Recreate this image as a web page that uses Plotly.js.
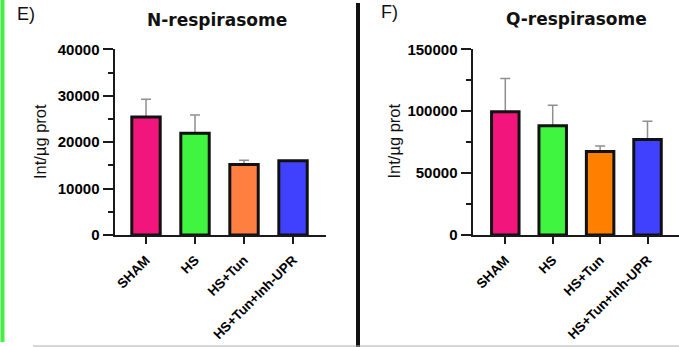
<!DOCTYPE html>
<html>
<head>
<meta charset="utf-8">
<script src="https://cdn.plot.ly/plotly-3.0.1.min.js"></script>
<style>html,body{margin:0;padding:0;background:#fff;}#chart{width:679px;height:347px;}</style>
</head>
<body>
<div id="chart"></div>
<script>
// ---- data ----
const categories = ["SHAM", "HS", "HS+Tun", "HS+Tun+Inh-UPR"];
const nRespValues = [25400, 21900, 15200, 16000];
const nRespErrors = [3850, 3950, 900, 0];
const qRespValues = [99500, 88200, 67500, 77200];
const qRespErrors = [26900, 16600, 4300, 14700];
const nTicks = [0, 10000, 20000, 30000, 40000];
const qTicks = [0, 50000, 100000, 150000];
const nColors = ["#F2167C", "#40F540", "#FF7F40", "#4040FF"];
const qColors = ["#F2167C", "#40F540", "#FF8000", "#4040FF"];

const W = 679, H = 347;
const px = x => x / W;
const py = y => 1 - y / H;

const yTickFont = {family: "Liberation Sans, Arial, sans-serif", size: 15, weight: "bold", color: "#000"};
const xTickFont = {family: "Liberation Sans, Arial, sans-serif", size: 13.5, weight: "bold", color: "#000"};
const BW = 0.58;

function errTrace(vals, errs, xa, ya) {
  return {
    type: "bar", x: categories, y: vals, xaxis: xa, yaxis: ya, width: BW,
    marker: {color: "rgba(0,0,0,0)", line: {width: 0}},
    error_y: {type: "data", symmetric: false, array: errs, arrayminus: errs.map(() => 0),
              color: "#8f8f8f", thickness: 1.5, width: 5},
    hoverinfo: "skip"
  };
}
function barTrace(vals, colors, xa, ya) {
  return {
    type: "bar", x: categories, y: vals, xaxis: xa, yaxis: ya, width: BW,
    marker: {color: colors, line: {color: "#111", width: 3}}
  };
}

const data = [
  errTrace(nRespValues, nRespErrors, "x", "y"),
  barTrace(nRespValues, nColors, "x", "y"),
  errTrace(qRespValues, qRespErrors, "x2", "y2"),
  barTrace(qRespValues, qColors, "x2", "y2")
];

function xAxis(domain, range, anchor) {
  return {
    domain: domain, range: range, anchor: anchor, type: "category",
    showline: true, linecolor: "#1a1a1a", linewidth: 2,
    ticks: "outside", ticklen: 7, tickwidth: 2, tickcolor: "#1a1a1a",
    tickangle: -45, tickfont: xTickFont, ticklabelstandoff: 3,
    showgrid: false, zeroline: false, fixedrange: true
  };
}
function yAxis(domain, range, tickvals, minorDtick, anchor) {
  return {
    domain: domain, range: range, anchor: anchor,
    tickmode: "array", tickvals: tickvals, ticktext: tickvals.map(String),
    showline: true, linecolor: "#1a1a1a", linewidth: 2,
    ticks: "outside", ticklen: 10, tickwidth: 2, tickcolor: "#1a1a1a",
    minor: {ticks: "outside", ticklen: 5, tickwidth: 2, tickcolor: "#1a1a1a", dtick: minorDtick, tick0: 0},
    tickfont: yTickFont, showgrid: false, zeroline: false, fixedrange: true
  };
}

const yDom = [py(235), py(49.3)];

const layout = {
  width: W, height: H,
  margin: {l: 0, r: 0, t: 0, b: 0},
  paper_bgcolor: "#fff", plot_bgcolor: "#fff",
  showlegend: false, barmode: "overlay",
  xaxis: xAxis([px(114.5), px(326)], [-0.643, 3.673], "y"),
  yaxis: yAxis(yDom, [0, 40000], nTicks, 5000, "x"),
  xaxis2: xAxis([px(472.5), 1], [-0.692, 3.664], "y2"),
  yaxis2: yAxis(yDom, [0, 150000], qTicks, 25000, "x2"),
  shapes: [
    {type: "line", xref: "paper", yref: "paper", x0: px(2.5), x1: px(2.5), y0: py(0), y1: py(342),
     line: {color: "#44EE44", width: 4}},
    {type: "line", xref: "paper", yref: "paper", x0: px(358), x1: px(358), y0: py(3), y1: py(347),
     line: {color: "#111", width: 4}},
    {type: "line", xref: "paper", yref: "paper", x0: px(33), x1: px(679), y0: py(346), y1: py(346),
     line: {color: "#b0b0b0", width: 1.2}}
  ],
  annotations: [
    {xref: "paper", yref: "paper", x: px(15), y: py(13.5), xanchor: "left", yanchor: "middle",
     text: "E)", showarrow: false, font: {family: "Liberation Sans, Arial, sans-serif", size: 18, color: "#111"}},
    {xref: "paper", yref: "paper", x: px(379), y: py(12.5), xanchor: "left", yanchor: "middle",
     text: "F)", showarrow: false, font: {family: "Liberation Sans, Arial, sans-serif", size: 18, color: "#111"}},
    {xref: "paper", yref: "paper", x: px(217), y: py(20), xanchor: "center", yanchor: "middle",
     text: "N-respirasome", showarrow: false, font: {family: "DejaVu Sans, sans-serif", size: 17, weight: "bold", color: "#111"}},
    {xref: "paper", yref: "paper", x: px(576), y: py(19.5), xanchor: "center", yanchor: "middle",
     text: "Q-respirasome", showarrow: false, font: {family: "DejaVu Sans, sans-serif", size: 17, weight: "bold", color: "#111"}},
    {xref: "paper", yref: "paper", x: px(40.5), y: py(141.5), xanchor: "center", yanchor: "middle", textangle: -90,
     text: "Int/µg prot", showarrow: false, font: {family: "Liberation Sans, Arial, sans-serif", size: 16.5, color: "#111"}},
    {xref: "paper", yref: "paper", x: px(394), y: py(141.5), xanchor: "center", yanchor: "middle", textangle: -90,
     text: "Int/µg prot", showarrow: false, font: {family: "Liberation Sans, Arial, sans-serif", size: 16.5, color: "#111"}}
  ]
};

Plotly.newPlot("chart", data, layout, {staticPlot: true, displayModeBar: false});
</script>
</body>
</html>
